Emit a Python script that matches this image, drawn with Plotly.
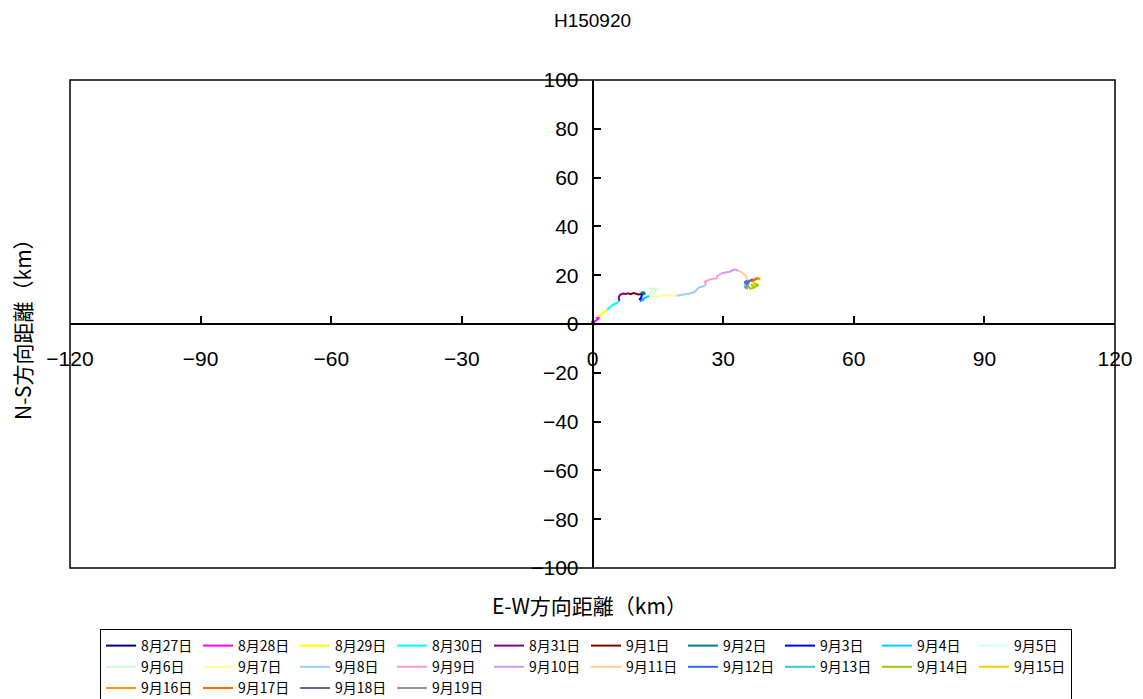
import plotly.graph_objects as go

# ---- data (km) ----
days = ["8月27日", "8月28日", "8月29日", "8月30日", "8月31日", "9月1日", "9月2日", "9月3日",
        "9月4日", "9月5日", "9月6日", "9月7日", "9月8日", "9月9日", "9月10日", "9月11日",
        "9月12日", "9月13日", "9月14日", "9月15日", "9月16日", "9月17日", "9月18日", "9月19日"]

colors = ["#000080", "#FF00FF", "#FFFF00", "#00FFFF", "#800080", "#800000", "#008080", "#0000FF",
          "#00CCFF", "#CCFFFF", "#CCFFCC", "#FFFF99", "#99CCFF", "#FF99CC", "#CC99FF", "#FFCC99",
          "#3366FF", "#33CCCC", "#99CC00", "#FFCC00", "#FF9900", "#FF6600", "#666699", "#969696"]

ew_0827 = [0.0, 0.3, -0.2, 0.4, 0.5]
ns_0827 = [0.0, 0.5, 0.9, 0.8, 1.0]
ew_0828 = [0.5, 0.9, 1.2, 1.0, 1.5, 1.4]
ns_0828 = [1.0, 1.6, 1.9, 2.4, 2.6, 3.0]
ew_0829 = [1.4, 1.9, 2.1, 2.6, 2.9, 3.3]
ns_0829 = [3.0, 3.6, 4.2, 4.9, 5.1, 5.8]
ew_0830 = [3.3, 3.8, 4.2, 4.8, 5.3, 5.7, 6.2]
ns_0830 = [5.8, 6.6, 7.2, 8.0, 8.4, 8.7, 9.5]
ew_0831 = [6.2, 6.0, 6.3, 7.0, 7.6, 8.2]
ns_0831 = [9.5, 10.8, 11.9, 12.5, 12.3, 12.6]
ew_0901 = [8.2, 8.8, 9.4, 10.0, 10.6, 11.3]
ns_0901 = [12.6, 12.2, 12.7, 12.3, 12.1, 12.3]
ew_0902 = [11.3, 11.6, 12.0, 11.8, 11.3, 11.2]
ns_0902 = [12.3, 12.0, 12.4, 13.0, 12.9, 12.5]
ew_0903 = [11.2, 11.3, 11.1, 10.7, 11.2, 11.8, 11.2, 11.1]
ns_0903 = [12.5, 11.5, 10.5, 10.1, 10.2, 10.1, 9.8, 9.1]
ew_0904 = [11.1, 11.5, 12.0, 12.6, 13.1]
ns_0904 = [9.1, 10.2, 10.7, 11.1, 11.5]
ew_0905 = [13.1, 13.4, 13.2]
ns_0905 = [11.5, 12.0, 12.4]
ew_0906 = [13.2, 13.6, 13.1, 14.0, 14.8, 14.3, 14.0]
ns_0906 = [12.4, 13.5, 14.6, 14.4, 14.3, 13.2, 12.0]
ew_0907 = [14.0, 13.6, 14.7, 15.5, 16.3, 17.8, 18.6, 19.3]
ns_0907 = [12.0, 11.2, 11.3, 11.7, 11.9, 11.9, 11.7, 11.6]
ew_0908 = [19.3, 20.5, 21.6, 22.6, 23.5, 24.0, 24.4, 25.1, 25.8]
ns_0908 = [11.6, 11.9, 12.2, 12.6, 13.2, 14.0, 14.9, 15.3, 15.6]
ew_0909 = [25.8, 26.0, 25.8, 27.0, 28.5, 28.6, 29.0, 29.7]
ns_0909 = [15.6, 16.6, 17.3, 18.3, 18.7, 19.5, 20.1, 20.8]
ew_0910 = [29.7, 30.8, 31.4, 32.0, 32.7, 33.5]
ns_0910 = [20.8, 21.0, 21.4, 21.8, 22.4, 21.8]
ew_0911 = [33.5, 34.0, 34.6, 35.1, 35.4, 35.6]
ns_0911 = [21.8, 21.5, 20.8, 20.0, 19.4, 17.8]
ew_0912 = [35.6, 35.0, 35.2, 35.9, 36.1]
ns_0912 = [17.8, 17.2, 16.0, 17.4, 17.0]
ew_0913 = [36.1, 35.2, 35.0, 35.5, 35.7]
ns_0913 = [17.0, 16.1, 15.0, 14.6, 15.8]
ew_0914 = [35.7, 36.2, 37.0, 36.6, 37.6, 38.1, 37.5, 36.8]
ns_0914 = [15.8, 14.5, 14.8, 16.0, 16.4, 15.9, 15.3, 15.5]
ew_0915 = [36.8, 37.2, 37.0]
ns_0915 = [15.5, 16.6, 17.3]
ew_0916 = [37.0, 36.6, 37.2, 37.7, 38.5, 38.0]
ns_0916 = [17.3, 17.8, 18.5, 18.7, 18.3, 18.9]
ew_0917 = [38.0, 37.2, 36.4, 36.8]
ns_0917 = [18.9, 18.0, 17.5, 18.4]
ew_0918 = [36.8, 35.8, 35.4, 35.8]
ns_0918 = [18.4, 17.5, 16.5, 15.8]
ew_0919 = [35.8, 35.2, 35.5, 35.3]
ns_0919 = [15.8, 15.2, 14.6, 15.5]

ew_all = [ew_0827, ew_0828, ew_0829, ew_0830, ew_0831, ew_0901, ew_0902, ew_0903,
          ew_0904, ew_0905, ew_0906, ew_0907, ew_0908, ew_0909, ew_0910, ew_0911,
          ew_0912, ew_0913, ew_0914, ew_0915, ew_0916, ew_0917, ew_0918, ew_0919]
ns_all = [ns_0827, ns_0828, ns_0829, ns_0830, ns_0831, ns_0901, ns_0902, ns_0903,
          ns_0904, ns_0905, ns_0906, ns_0907, ns_0908, ns_0909, ns_0910, ns_0911,
          ns_0912, ns_0913, ns_0914, ns_0915, ns_0916, ns_0917, ns_0918, ns_0919]

x_ticks = [-120, -90, -60, -30, 0, 30, 60, 90, 120]
y_ticks = [-100, -80, -60, -40, -20, 0, 20, 40, 60, 80, 100]

FONT = "Noto Sans CJK JP, Liberation Sans, sans-serif"
NUMFONT = "Liberation Sans, Arial, sans-serif"

fig = go.Figure()
for name, col, xs, ys in zip(days, colors, ew_all, ns_all):
    fig.add_trace(go.Scatter(x=xs, y=ys, mode="lines", name=name,
                             line=dict(color=col, width=2)))

# page body has an 8px margin; compensate so the plot area lands at x 70..1115, y 80..568
OFF = 8
W, H = 1143 - OFF, 699 - OFF
L, R, T, B = 70 - OFF, 28, 80 - OFF, 131
PW = 1045
PH = 488

fig.update_layout(
    width=W, height=H,
    margin=dict(l=L, r=R, t=T, b=B, autoexpand=False),
    paper_bgcolor="white", plot_bgcolor="white",
    font=dict(family=FONT, color="black"),
    title=dict(text="H150920", x=0.5, xref="paper", y=1 - (20 - OFF) / H, yref="container",
               xanchor="center", yanchor="middle", font=dict(size=19, family=NUMFONT)),
    xaxis=dict(range=[-120, 120], tickvals=x_ticks, anchor="free", position=0.5,
               showgrid=False, zeroline=False, showline=True, linecolor="black", linewidth=1.5,
               ticks="inside", ticklen=7, tickwidth=1.5, tickcolor="black",
               tickfont=dict(size=21, family=NUMFONT), ticklabelstandoff=16),
    yaxis=dict(range=[-100, 100], tickvals=y_ticks, anchor="free", position=0.5,
               showgrid=False, zeroline=False, showline=True, linecolor="black", linewidth=1.5,
               ticks="inside", ticklen=8, tickwidth=1.5, tickcolor="black",
               tickfont=dict(size=21, family=NUMFONT), ticklabelstandoff=9),
    shapes=[dict(type="rect", xref="paper", yref="paper", x0=0, x1=1, y0=0, y1=1,
                 line=dict(color="black", width=1.5), layer="above")],
    annotations=[
        dict(text="E-W方向距離（km）", xref="paper", yref="paper", x=(589.5 - 70) / PW,
             y=-(605 - 568) / PH, xanchor="center", yanchor="middle", showarrow=False,
             font=dict(size=21, family=FONT)),
        dict(text="N-S方向距離（km）", xref="paper", yref="paper", x=-(70 - 22) / PW, y=0.5,
             xanchor="center", yanchor="middle", textangle=-90, showarrow=False,
             font=dict(size=21, family=FONT)),
    ],
    legend=dict(orientation="h", x=(100 - 70) / PW, xanchor="left",
                y=-(629 - 568) / PH, yanchor="top", bordercolor="black", borderwidth=1,
                font=dict(size=14, family=FONT), entrywidth=52, entrywidthmode="pixels",
                tracegroupgap=0, itemwidth=30),
    showlegend=True,
)

fig.write_html("out.html")
